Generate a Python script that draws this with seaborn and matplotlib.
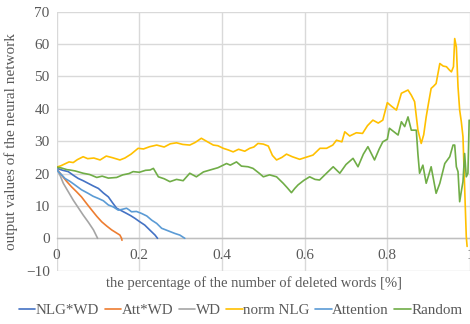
import pandas as pd
import matplotlib.pyplot as plt
import seaborn as sns

# values
nlg_wd_x = [0, 0.015, 0.028, 0.04, 0.052, 0.064, 0.076, 0.088, 0.101, 0.113, 0.125, 0.135,
            0.145, 0.157, 0.169, 0.179, 0.189, 0.2, 0.213, 0.225, 0.238, 0.244]
nlg_wd_y = [21.6, 21.0, 20.6, 19.5, 18.5, 17.8, 17.0, 16.2, 15.4, 14.0, 12.8, 11.0,
            9.3, 8.5, 7.7, 7.0, 6.2, 5.2, 4.1, 2.6, 1.0, 0.0]

att_wd_x = [0, 0.012, 0.024, 0.036, 0.048, 0.06, 0.072, 0.085, 0.097, 0.109, 0.121, 0.133,
            0.143, 0.153, 0.157, 0.158]
att_wd_y = [21.5, 19.5, 17.6, 15.9, 14.4, 12.8, 10.8, 8.7, 6.8, 5.1, 3.8, 2.6,
            1.8, 1.0, 0.0, -0.6]

wd_x = [0, 0.008, 0.016, 0.028, 0.04, 0.052, 0.064, 0.077, 0.089, 0.094, 0.099]
wd_y = [21.5, 19.5, 17.0, 14.4, 11.8, 9.5, 7.2, 4.9, 2.6, 1.3, 0.0]

norm_nlg_x = [0, 0.01, 0.02, 0.03, 0.04, 0.05, 0.064, 0.075, 0.09, 0.105, 0.12, 0.135,
              0.153, 0.165, 0.18, 0.197, 0.21, 0.225, 0.242, 0.26, 0.275, 0.29, 0.305,
              0.322, 0.335, 0.35, 0.365, 0.379, 0.39, 0.403, 0.415, 0.427, 0.44, 0.455,
              0.467, 0.477, 0.487, 0.5, 0.512, 0.522, 0.532, 0.545, 0.556, 0.57, 0.588,
              0.6, 0.62, 0.637, 0.653, 0.668, 0.677, 0.69, 0.697, 0.709, 0.725, 0.74,
              0.752, 0.765, 0.778, 0.789, 0.8, 0.81, 0.822, 0.834, 0.842, 0.85, 0.858,
              0.866, 0.874, 0.882, 0.888, 0.894, 0.9, 0.906, 0.912, 0.918, 0.927, 0.935,
              0.943, 0.95, 0.955, 0.96, 0.963, 0.967, 0.971, 0.975, 0.979, 0.983, 0.987,
              0.991, 0.993]
norm_nlg_y = [22.0, 22.4, 23.0, 23.6, 23.4, 24.3, 25.2, 24.6, 24.8, 24.2, 25.4, 24.9,
              24.2, 24.8, 26.0, 27.8, 27.6, 28.3, 28.8, 28.2, 29.2, 29.5, 29.0,
              28.8, 29.6, 30.9, 29.8, 28.8, 28.6, 27.8, 27.3, 26.7, 27.5, 26.9,
              27.8, 28.2, 29.3, 29.1, 28.5, 25.6, 24.2, 25.0, 26.0, 25.2, 24.4,
              24.9, 25.7, 27.8, 27.8, 28.8, 30.3, 29.8, 32.9, 31.6, 32.6, 32.4,
              34.8, 36.5, 35.6, 36.5, 41.9, 40.8, 39.6, 44.8, 45.3, 45.8, 44.2,
              42.2, 33.4, 29.3, 32.0, 37.5, 42.0, 46.3, 47.0, 47.8, 54.0, 53.2,
              53.0, 52.0, 51.4, 53.0, 61.7, 59.1, 46.8, 39.6, 36.0, 31.4, 15.9,
              0.5, -2.5]

attention_x = [0, 0.004, 0.012, 0.02, 0.032, 0.044, 0.06, 0.076, 0.088, 0.101, 0.113, 0.125,
               0.137, 0.149, 0.16, 0.169, 0.175, 0.181, 0.193, 0.205, 0.218, 0.23, 0.242,
               0.254, 0.27, 0.286, 0.298, 0.31]
attention_y = [21.5, 20.6, 19.6, 18.5, 17.6, 16.5, 15.0, 13.9, 13.0, 12.3, 11.6, 10.3,
               9.7, 8.7, 9.0, 9.3, 8.8, 8.2, 8.3, 7.7, 6.9, 5.6, 4.6,
               3.1, 2.3, 1.5, 1.0, 0.0]

random_x = [0, 0.012, 0.025, 0.032, 0.045, 0.064, 0.08, 0.097, 0.11, 0.125, 0.145, 0.16,
            0.175, 0.185, 0.2, 0.215, 0.226, 0.234, 0.246, 0.26, 0.274, 0.29, 0.306,
            0.322, 0.338, 0.355, 0.371, 0.39, 0.403, 0.411, 0.42, 0.435, 0.447, 0.463,
            0.475, 0.49, 0.5, 0.515, 0.532, 0.548, 0.558, 0.568, 0.576, 0.584, 0.598,
            0.612, 0.625, 0.636, 0.652, 0.669, 0.685, 0.7, 0.717, 0.729, 0.742, 0.753,
            0.769, 0.78, 0.789, 0.8, 0.805, 0.815, 0.826, 0.834, 0.842, 0.85, 0.858,
            0.87, 0.874, 0.878, 0.886, 0.894, 0.9, 0.906, 0.912, 0.918, 0.927, 0.939,
            0.951, 0.959, 0.963, 0.967, 0.971, 0.975, 0.979, 0.983, 0.987, 0.991,
            0.995, 0.998]
random_y = [22.0, 21.7, 21.2, 21.1, 20.8, 20.1, 19.7, 18.8, 19.2, 18.6, 18.8, 19.6,
            20.0, 20.6, 20.4, 21.0, 21.1, 21.6, 19.0, 18.4, 17.5, 18.2, 17.8,
            20.1, 19.0, 20.5, 21.1, 21.8, 22.6, 23.1, 22.6, 23.6, 22.3, 22.1,
            21.6, 20.1, 19.0, 19.6, 19.0, 17.0, 15.6, 14.1, 15.4, 16.5, 17.9,
            19.0, 18.2, 18.0, 20.0, 22.1, 20.1, 22.8, 24.7, 22.1, 26.0, 28.3,
            24.2, 27.5, 29.8, 30.6, 34.0, 33.0, 31.9, 36.0, 34.5, 37.5, 33.4,
            33.4, 26.0, 20.1, 22.6, 17.0, 19.5, 22.1, 18.0, 13.9, 17.0, 23.1,
            25.2, 28.8, 28.8, 22.1, 20.6, 11.3, 14.5, 17.5, 26.2, 19.0,
            20.1, 36.5]

series = [
    ("NLG*WD", nlg_wd_x, nlg_wd_y, "#4472C4"),
    ("Att*WD", att_wd_x, att_wd_y, "#ED7D31"),
    ("WD", wd_x, wd_y, "#A5A5A5"),
    ("norm NLG", norm_nlg_x, norm_nlg_y, "#FFC000"),
    ("Attention", attention_x, attention_y, "#5B9BD5"),
    ("Random", random_x, random_y, "#70AD47"),
]

x_ticks = [0, 0.2, 0.4, 0.6, 0.8, 1]
x_tick_labels = ["0", "0.2", "0.4", "0.6", "0.8", "1"]
y_ticks = [-10, 0, 10, 20, 30, 40, 50, 60, 70]

sns.set_theme(style="whitegrid")
plt.rcParams["font.family"] = ["Liberation Serif", "DejaVu Serif"]
text_grey = "#595959"

fig = plt.figure(figsize=(4.7, 3.24), dpi=100)
ax = fig.add_axes([0.1206, 0.1645, 0.8794, 0.7995])

for name, xs, ys, col in series:
    df = pd.DataFrame({"x": xs, "y": ys})
    sns.lineplot(data=df, x="x", y="y", sort=False, estimator=None,
                 color=col, linewidth=1.2, label=name, ax=ax)

ax.set_xlim(0, 1)
ax.set_ylim(-10, 70)
ax.set_xticks(x_ticks)
ax.set_xticklabels(x_tick_labels)
ax.set_yticks(y_ticks)
ax.grid(True, color="#D9D9D9", linewidth=1.0)
ax.set_facecolor("white")

for s in ["top", "right", "left"]:
    ax.spines[s].set_visible(False)
ax.spines["bottom"].set_position(("data", 0))
ax.spines["bottom"].set_color("#BFBFBF")
ax.spines["bottom"].set_linewidth(1.0)
ax.spines["bottom"].set_zorder(1)

ax.tick_params(axis="both", length=0, labelsize=11, labelcolor=text_grey)
ax.tick_params(axis="x", pad=8)
ax.tick_params(axis="y", pad=5)

ax.set_xlabel("the percentage of the number of deleted words [%]",
              fontsize=10.5, color=text_grey)
ax.xaxis.set_label_coords(0.477, -0.02)
ax.set_ylabel("output values of the neural network", fontsize=11, color=text_grey)
ax.yaxis.set_label_coords(-0.093, 0.5)

ax.get_legend().remove()
handles, labels = ax.get_legend_handles_labels()
fig.legend(handles, labels, loc="center", bbox_to_anchor=(0.512, 0.043), ncol=6,
           frameon=False, fontsize=10.8, labelcolor=text_grey, handlelength=1.1,
           handletextpad=0.05, columnspacing=0.35, borderpad=0.1)

fig.savefig("out.png", dpi=100)
